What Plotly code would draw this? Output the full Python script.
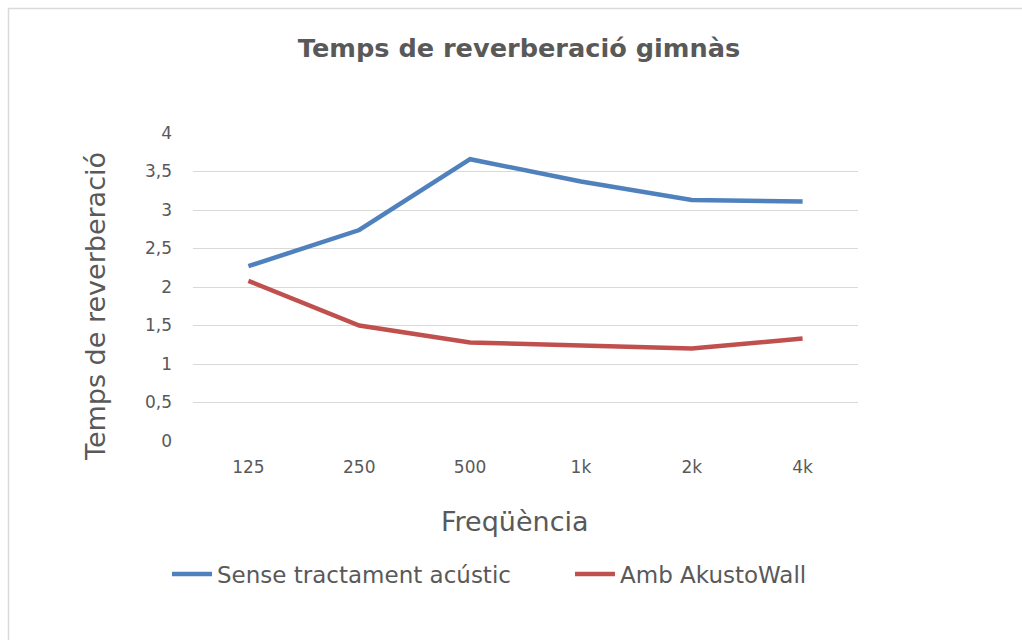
import plotly.graph_objects as go

# Reverberation time per octave band (seconds)
frequencies = ["125", "250", "500", "1k", "2k", "4k"]
sense_tractament = [2.27, 2.74, 3.66, 3.37, 3.13, 3.11]
amb_akustowall = [2.08, 1.50, 1.28, 1.24, 1.20, 1.33]
y_ticks = [0, 0.5, 1, 1.5, 2, 2.5, 3, 3.5, 4]

FONT = "DejaVu Sans"
GREY = "#595959"

# plot area in pixels
L, R, T, B = 193, 858, 133, 441
W, H = 1022, 640
pw, ph = R - L, B - T


def px_x(p):
    return (p - L) / pw


def px_y(p):
    return (B - p) / ph


fig = go.Figure()
fig.add_trace(go.Scatter(
    x=frequencies, y=sense_tractament, mode="lines",
    name="Sense tractament acústic",
    line=dict(color="#4f81bd", width=4.5),
))
fig.add_trace(go.Scatter(
    x=frequencies, y=amb_akustowall, mode="lines",
    name="Amb AkustoWall",
    line=dict(color="#c0504d", width=4.5),
))

# outer chart border (runs past the right and bottom edges)
fig.add_shape(
    type="rect", xref="paper", yref="paper",
    x0=px_x(8.5), x1=px_x(1040), y0=px_y(660), y1=px_y(8.5),
    line=dict(color="#d9d9d9", width=1.5), fillcolor="rgba(0,0,0,0)",
    layer="below",
)

# axis titles
fig.add_annotation(
    text="Freqüència", xref="paper", yref="paper",
    x=px_x(515), y=px_y(521), xanchor="center", yanchor="middle",
    showarrow=False, font=dict(family=FONT, size=27, color=GREY),
)
fig.add_annotation(
    text="Temps de reverberació", xref="paper", yref="paper",
    x=px_x(95), y=px_y(307), xanchor="center", yanchor="middle",
    textangle=-90, showarrow=False, font=dict(family=FONT, size=27, color=GREY),
)

fig.update_layout(
    width=W, height=H,
    margin=dict(l=L, r=W - R, t=T, b=H - B, pad=0),
    paper_bgcolor="white", plot_bgcolor="white",
    separators=", ",
    font=dict(family=FONT, color=GREY),
    title=dict(
        text="<b>Temps de reverberació gimnàs</b>",
        x=519 / W, xanchor="center", y=1 - 48 / H, yanchor="middle",
        font=dict(family=FONT, size=25.6, color=GREY),
    ),
    xaxis=dict(
        type="category", range=[-0.5, 5.5],
        showgrid=False, zeroline=False,
        showline=False, ticks="",
        tickfont=dict(size=17, color=GREY),
        ticklabelstandoff=14,
    ),
    yaxis=dict(
        range=[0, 4], tickvals=y_ticks,
        showgrid=True, gridcolor="#d9d9d9", gridwidth=1.4,
        zeroline=False, showline=False, ticks="",
        tickfont=dict(size=17, color=GREY),
        ticklabelstandoff=20,
    ),
    legend=dict(
        orientation="h", x=px_x(167), xanchor="left",
        y=px_y(574), yanchor="middle",
        font=dict(size=23, color=GREY),
        itemwidth=40, tracegroupgap=0, entrywidth=348,
        bgcolor="rgba(0,0,0,0)",
    ),
    showlegend=True,
)

fig.write_html("out.html")
